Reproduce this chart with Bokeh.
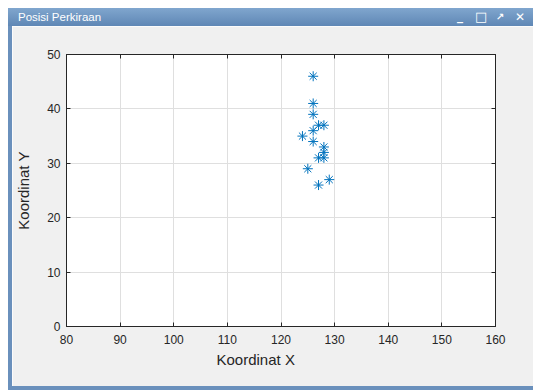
from bokeh.plotting import figure
from bokeh.models import Range1d, FixedTicker, LinearAxis, Title, Div
from bokeh.layouts import column, row
from bokeh.embed import file_html
from bokeh.resources import INLINE

# data
x_vals = [126, 126, 126, 127, 128, 126, 124, 126, 128, 128, 128, 127, 125, 129, 127]
y_vals = [46, 41, 39, 37, 37, 36, 35, 34, 33, 32, 31, 31, 29, 27, 26]
x_ticks = [80, 90, 100, 110, 120, 130, 140, 150, 160]
y_ticks = [0, 10, 20, 30, 40, 50]
window_title = "Posisi Perkiraan"
x_label = "Koordinat X"
y_label = "Koordinat Y"

TXT = "#262626"
FONT = "Liberation Sans"
BLUE = "#6a90bc"

p = figure(width=521, height=360, output_backend="svg", toolbar_location=None,
           x_range=Range1d(x_ticks[0], x_ticks[-1]), y_range=Range1d(y_ticks[0], y_ticks[-1]),
           min_border_left=53, min_border_right=38, min_border_top=28, min_border_bottom=60,
           background_fill_color="white", border_fill_color="#f0f0f0", margin=(0, 0, 0, 0))
p.outline_line_color = TXT
p.outline_line_width = 1

for ax in (p.xaxis[0], p.yaxis[0]):
    ax.axis_line_color = TXT
    ax.major_tick_line_color = TXT
    ax.major_tick_in = 4
    ax.major_tick_out = 0
    ax.minor_tick_line_color = None
    ax.major_label_text_font = FONT
    ax.major_label_text_font_size = "12px"
    ax.major_label_text_color = TXT

p.xaxis.ticker = FixedTicker(ticks=x_ticks)
p.yaxis.ticker = FixedTicker(ticks=y_ticks)
p.xaxis.major_label_standoff = 8
p.yaxis.major_label_standoff = 6
p.yaxis.axis_label = y_label
p.yaxis.axis_label_text_font = FONT
p.yaxis.axis_label_text_font_size = "15px"
p.yaxis.axis_label_text_font_style = "normal"
p.yaxis.axis_label_text_color = TXT
p.yaxis.axis_label_standoff = 12

# box ticks on top and right (no labels)
top_ax = LinearAxis(ticker=FixedTicker(ticks=x_ticks), major_label_overrides={t: "" for t in x_ticks})
right_ax = LinearAxis(ticker=FixedTicker(ticks=y_ticks), major_label_overrides={t: "" for t in y_ticks})
for ax in (top_ax, right_ax):
    ax.axis_line_color = TXT
    ax.major_tick_line_color = TXT
    ax.major_tick_in = 4
    ax.major_tick_out = 0
    ax.minor_tick_line_color = None
    ax.major_label_standoff = 0
p.add_layout(top_ax, "above")
p.add_layout(right_ax, "right")

p.xgrid.ticker = FixedTicker(ticks=x_ticks)
p.ygrid.ticker = FixedTicker(ticks=y_ticks)
p.grid.grid_line_color = "#dfdfdf"
p.grid.grid_line_width = 1

p.scatter(x_vals, y_vals, marker="asterisk", size=10, line_color="#0072BD", line_width=1)

p.add_layout(Title(text=x_label, align="left", offset=150, text_font=FONT, text_font_size="15px",
                   text_font_style="normal", text_color=TXT, standoff=4), "below")

title_html = (
    '<div style="position:relative;width:525px;height:18px;">'
    '<span style="position:absolute;left:10px;top:0;line-height:18px;font-family:\'Liberation Sans\';'
    'font-size:11.5px;color:white;">' + window_title + '</span>'
    '<span style="position:absolute;left:449px;top:-1px;line-height:18px;font-family:\'DejaVu Sans\';font-size:12px;color:white;font-weight:bold;">_</span>'
    '<span style="position:absolute;left:467px;top:0;line-height:18px;font-family:\'DejaVu Sans\';font-size:13px;color:white;">&#9633;</span>'
    '<span style="position:absolute;left:488px;top:0;line-height:18px;font-family:\'DejaVu Sans\';font-size:10px;color:white;font-weight:bold;">&#8599;</span>'
    '<span style="position:absolute;left:507px;top:0;line-height:18px;font-family:\'DejaVu Sans\';font-size:12px;color:white;">&#10005;</span>'
    '</div>'
)
title_div = Div(text=title_html, width=525, height=18, margin=(0, 0, 0, 0),
                styles={"background": "linear-gradient(to bottom, #80a6ce, #5f87b5)"})
left_strip = Div(text="", width=4, height=360, margin=(0, 0, 0, 0), styles={"background": BLUE})
bottom_strip = Div(text="", width=525, height=4, margin=(0, 0, 0, 0), styles={"background": BLUE})

layout = column(row(title_div, margin=(0, 0, 0, 0)), row(left_strip, p, margin=(0, 0, 0, 0)),
                row(bottom_strip, margin=(0, 0, 0, 0)), margin=(8, 0, 0, 8))

open("out.html", "w").write(file_html(layout, INLINE))
